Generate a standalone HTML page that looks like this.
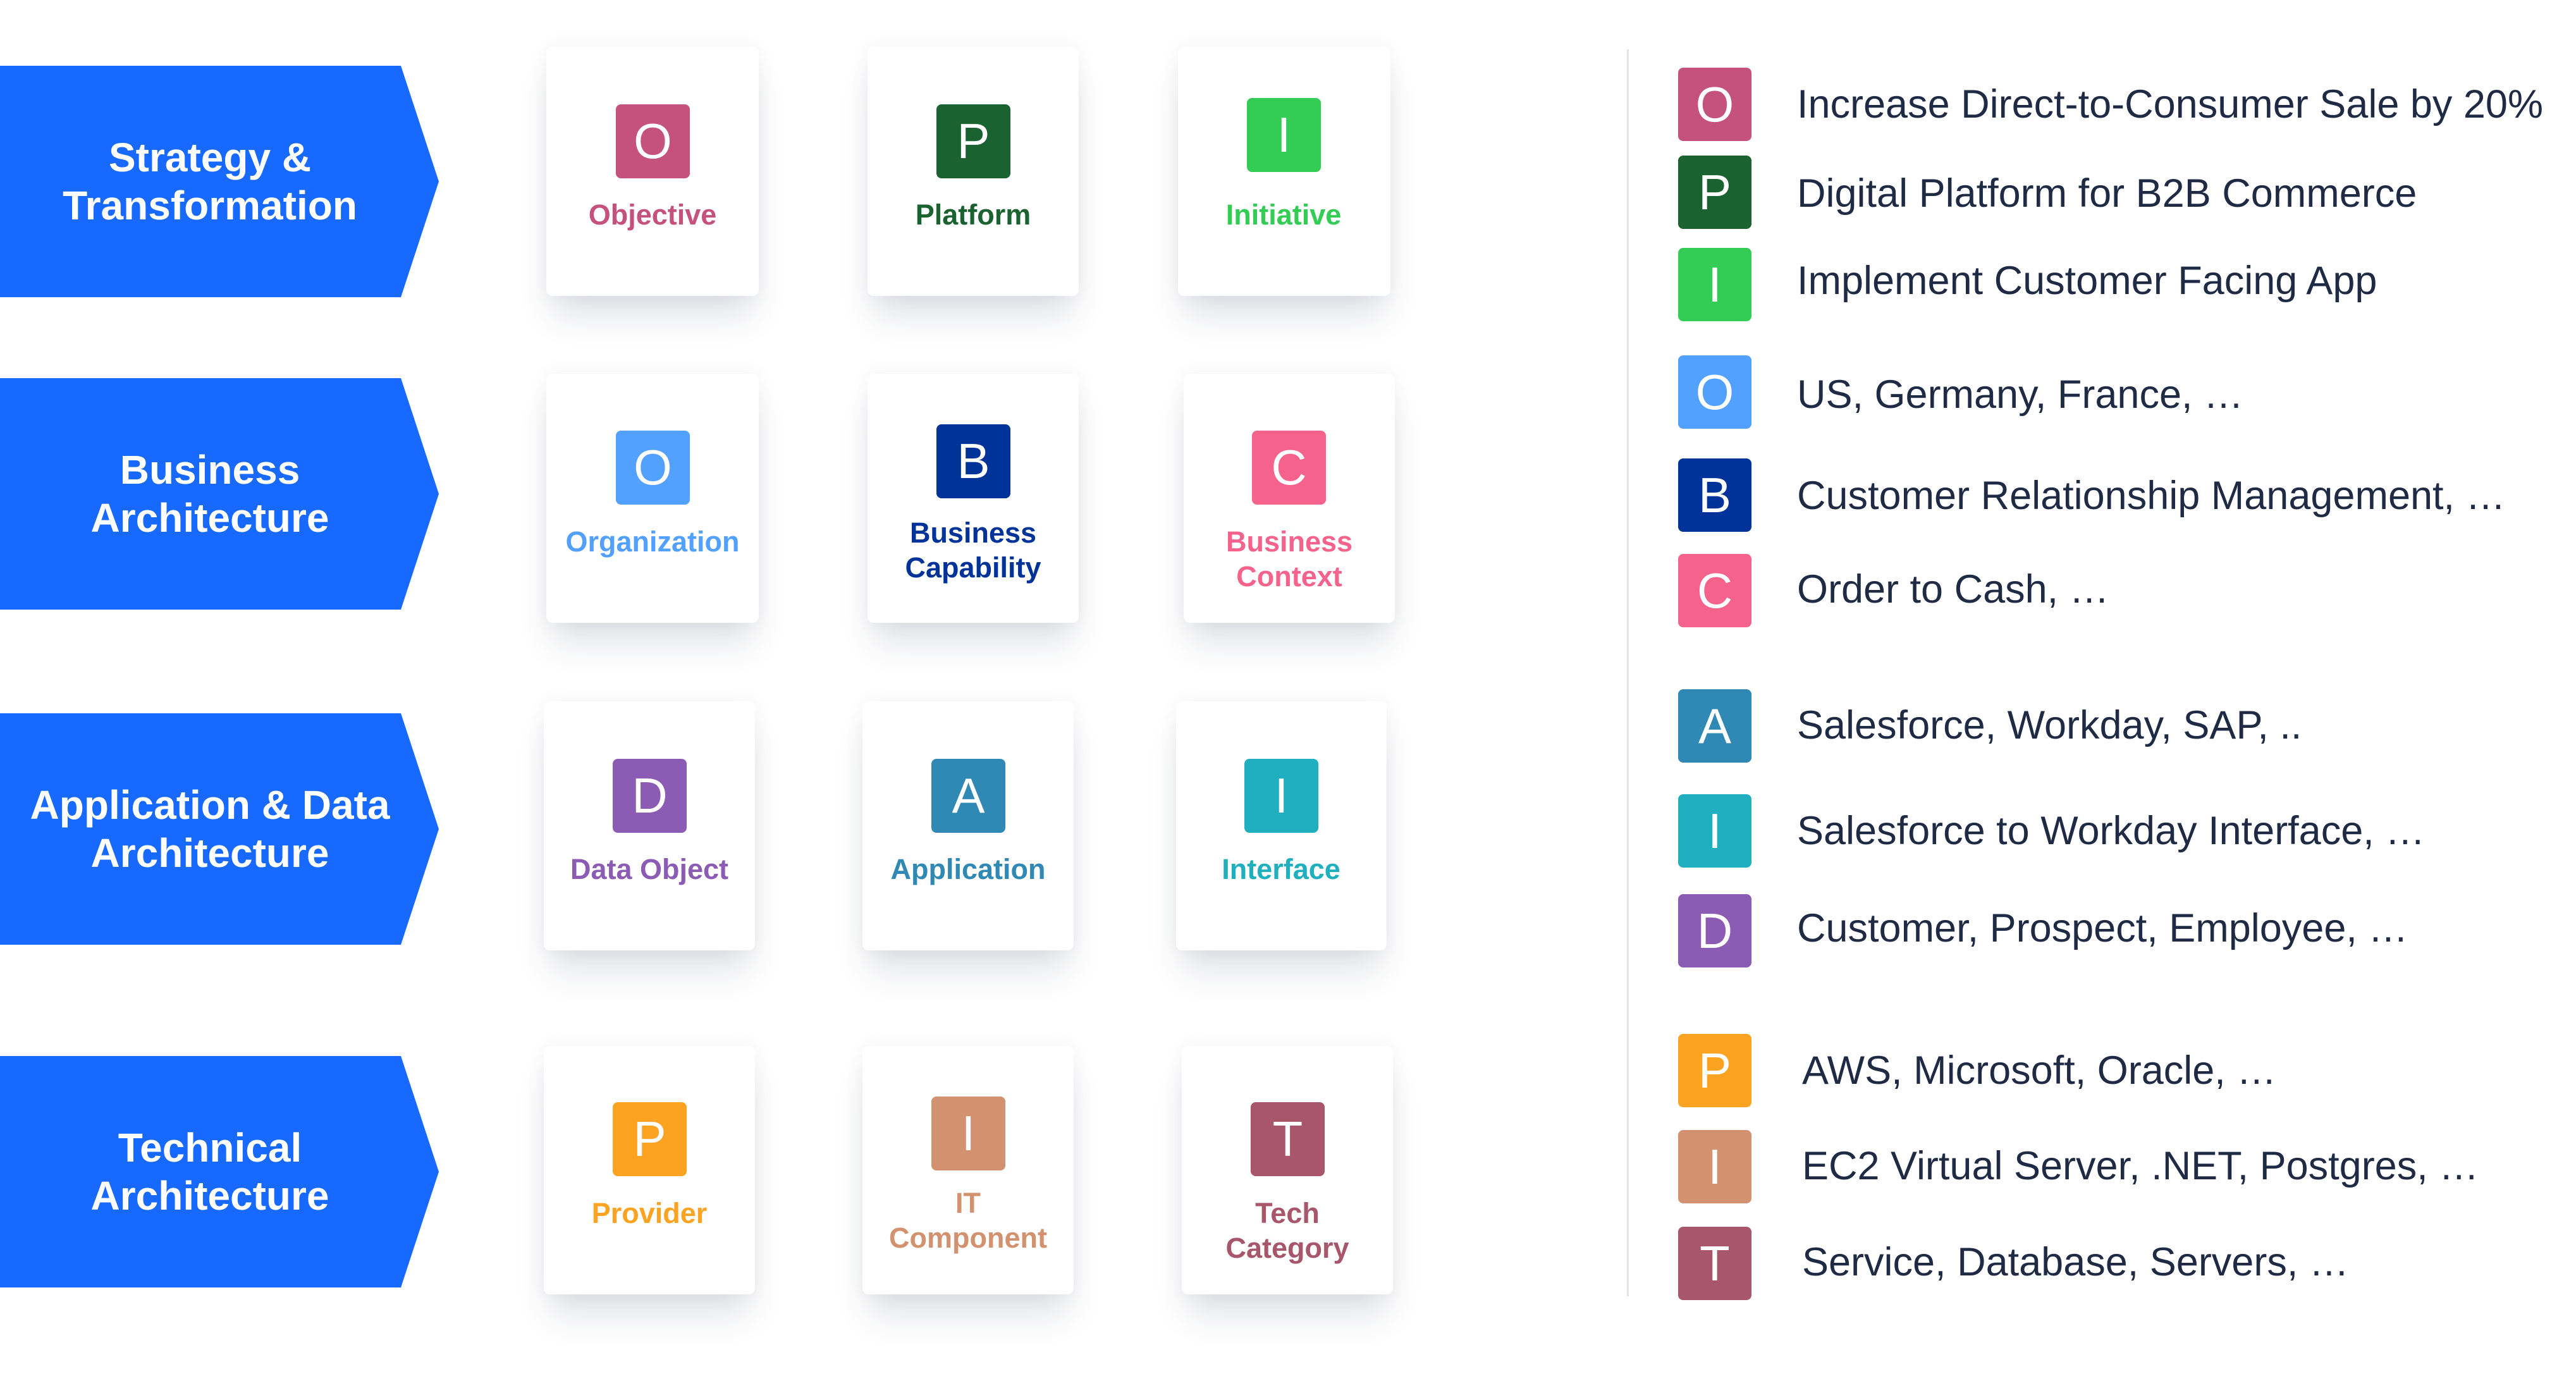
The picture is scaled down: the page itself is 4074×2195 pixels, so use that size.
<!DOCTYPE html>
<html><head><meta charset="utf-8"><style>
*{margin:0;padding:0;box-sizing:border-box}
body{width:4074px;height:2195px;background:#fff;position:relative;overflow:hidden;font-family:"Liberation Sans",sans-serif}
.chev{position:absolute;left:0;width:694px;background:#1769ff;clip-path:polygon(0 0,634px 0,100% 50%,634px 100%,0 100%);color:#fff;font-weight:bold;font-size:64px;line-height:76px;display:flex;align-items:center;justify-content:center;text-align:center;padding-right:30px}
.card{position:absolute;background:#fff;border-radius:10px;box-shadow:0 40px 50px -10px rgba(30,40,70,0.14),0 0 30px rgba(30,40,70,0.05)}
.ic{position:absolute;width:117px;height:117px;border-radius:8px;color:#fff;font-size:78px;line-height:117px;text-align:center}
.lb{position:absolute;font-weight:bold;font-size:45px;line-height:55px;text-align:center;white-space:nowrap;transform:translateX(-50%)}
.li{position:absolute;left:2654px;width:116px;height:116px;border-radius:8px;color:#fff;font-size:78px;line-height:116px;text-align:center}
.lt{position:absolute;left:2842px;color:#1f2a44;font-size:63px;line-height:80px;white-space:nowrap}
</style></head><body>
<div class="chev" style="top:104px;height:366px">Strategy &amp;<br>Transformation</div>
<div class="chev" style="top:598px;height:366px">Business<br>Architecture</div>
<div class="chev" style="top:1128px;height:366px">Application &amp; Data<br>Architecture</div>
<div class="chev" style="top:1670px;height:366px">Technical<br>Architecture</div>

<div class="card" style="left:864px;top:74px;width:336px;height:394px"></div>
<div class="card" style="left:1372px;top:74px;width:334px;height:394px"></div>
<div class="card" style="left:1863px;top:74px;width:336px;height:394px"></div>
<div class="card" style="left:864px;top:591px;width:336px;height:394px"></div>
<div class="card" style="left:1372px;top:591px;width:334px;height:394px"></div>
<div class="card" style="left:1872px;top:591px;width:334px;height:394px"></div>
<div class="card" style="left:860px;top:1109px;width:334px;height:394px"></div>
<div class="card" style="left:1364px;top:1109px;width:334px;height:394px"></div>
<div class="card" style="left:1860px;top:1109px;width:333px;height:394px"></div>
<div class="card" style="left:860px;top:1654px;width:334px;height:393px"></div>
<div class="card" style="left:1364px;top:1654px;width:334px;height:393px"></div>
<div class="card" style="left:1869px;top:1654px;width:334px;height:393px"></div>

<div class="ic" style="left:974px;top:165px;background:#c4527c">O</div>
<div class="lb" style="left:1032px;top:312px;color:#c4527c">Objective</div>
<div class="ic" style="left:1481px;top:165px;background:#1a6330">P</div>
<div class="lb" style="left:1539px;top:312px;color:#1a6330">Platform</div>
<div class="ic" style="left:1972px;top:155px;background:#33cc55">I</div>
<div class="lb" style="left:2030px;top:312px;color:#33cc55">Initiative</div>

<div class="ic" style="left:974px;top:681px;background:#52a0ff">O</div>
<div class="lb" style="left:1032px;top:829px;color:#52a0ff">Organization</div>
<div class="ic" style="left:1481px;top:671px;background:#003399">B</div>
<div class="lb" style="left:1539px;top:815px;color:#003399">Business<br>Capability</div>
<div class="ic" style="left:1980px;top:681px;background:#f5638d">C</div>
<div class="lb" style="left:2039px;top:829px;color:#f5638d">Business<br>Context</div>

<div class="ic" style="left:969px;top:1200px;background:#8c5cb5">D</div>
<div class="lb" style="left:1027px;top:1347px;color:#8c5cb5">Data Object</div>
<div class="ic" style="left:1473px;top:1200px;background:#3088b5">A</div>
<div class="lb" style="left:1531px;top:1347px;color:#3088b5">Application</div>
<div class="ic" style="left:1968px;top:1200px;background:#20afbf">I</div>
<div class="lb" style="left:2026px;top:1347px;color:#20afbf">Interface</div>

<div class="ic" style="left:969px;top:1743px;background:#fca321">P</div>
<div class="lb" style="left:1027px;top:1891px;color:#fca321">Provider</div>
<div class="ic" style="left:1473px;top:1734px;background:#d3926f">I</div>
<div class="lb" style="left:1531px;top:1875px;color:#d3926f">IT<br>Component</div>
<div class="ic" style="left:1978px;top:1743px;background:#a8566c">T</div>
<div class="lb" style="left:2036px;top:1891px;color:#a8566c">Tech<br>Category</div>

<div style="position:absolute;left:2573px;top:78px;width:3px;height:1972px;background:#e3e5ea"></div>

<div class="li" style="top:107px;background:#c4527c">O</div><div class="lt" style="top:125px">Increase Direct-to-Consumer Sale by 20%</div>
<div class="li" style="top:246px;background:#1a6330">P</div><div class="lt" style="top:266px">Digital Platform for B2B Commerce</div>
<div class="li" style="top:392px;background:#33cc55">I</div><div class="lt" style="top:404px">Implement Customer Facing App</div>
<div class="li" style="top:562px;background:#52a0ff">O</div><div class="lt" style="top:584px">US, Germany, France, …</div>
<div class="li" style="top:725px;background:#003399">B</div><div class="lt" style="top:744px">Customer Relationship Management, …</div>
<div class="li" style="top:876px;background:#f5638d">C</div><div class="lt" style="top:892px">Order to Cash, …</div>
<div class="li" style="top:1090px;background:#3088b5">A</div><div class="lt" style="top:1107px">Salesforce, Workday, SAP, ..</div>
<div class="li" style="top:1256px;background:#20afbf">I</div><div class="lt" style="top:1274px">Salesforce to Workday Interface, …</div>
<div class="li" style="top:1414px;background:#8c5cb5">D</div><div class="lt" style="top:1428px">Customer, Prospect, Employee, …</div>
<div class="li" style="top:1635px;background:#fca321">P</div><div class="lt" style="top:1653px;left:2850px">AWS, Microsoft, Oracle, …</div>
<div class="li" style="top:1787px;background:#d3926f">I</div><div class="lt" style="top:1804px;left:2850px">EC2 Virtual Server, .NET, Postgres, …</div>
<div class="li" style="top:1940px;background:#a8566c">T</div><div class="lt" style="top:1956px;left:2850px">Service, Database, Servers, …</div>
</body></html>
